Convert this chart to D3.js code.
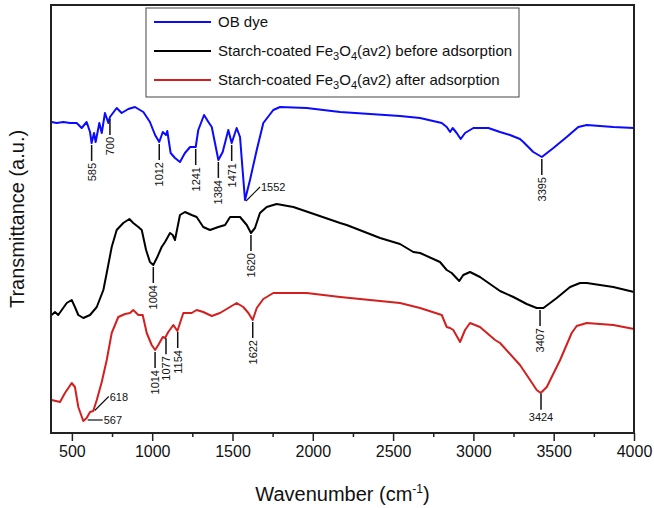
<!DOCTYPE html>
<html>
<head>
<meta charset="utf-8">
<script src="https://cdn.jsdelivr.net/npm/d3@7"></script>
<style>
body { margin: 0; background: #fff; font-family: "Liberation Sans", Arial, sans-serif; }
</style>
</head>
<body>
<script>

// spectra: [wavenumber (cm-1), transmittance (a.u.)]
var obDye = [[374,311],[405,310],[447,311],[488,310],[530,310],[561,305],[592,311],[613,301],[623,290],[638,300],[648,291],[671,310],[686,300],[706,320],[727,310],[737,316],[779,325],[810,320],[851,324],[893,326],[924,323],[945,321],[986,311],[1018,298],[1044,291],[1066,301],[1086,298],[1094,302],[1115,280],[1142,275],[1173,271],[1204,280],[1236,286],[1271,286],[1287,303],[1323,318],[1350,311],[1371,306],[1391,290],[1412,273],[1439,281],[1474,303],[1495,290],[1526,305],[1547,296],[1562,265],[1578,233],[1609,253],[1651,283],[1692,310],[1754,323],[1796,326],[1962,325],[2170,321],[2543,317],[2668,315],[2803,310],[2834,306],[2855,301],[2871,305],[2896,300],[2921,294],[2948,300],[3000,305],[3093,305],[3166,301],[3228,298],[3290,294],[3311,291],[3373,281],[3426,276],[3498,285],[3581,296],[3653,306],[3706,308],[3871,306],[4000,305]];

var beforeAds = [[374,118],[395,121],[415,118],[437,123],[468,130],[499,133],[519,126],[540,118],[571,115],[613,118],[655,126],[696,143],[717,160],[748,186],[779,203],[820,210],[858,214],[882,210],[914,206],[935,203],[962,183],[986,171],[1007,168],[1032,176],[1059,186],[1080,191],[1111,200],[1128,198],[1142,193],[1173,218],[1204,221],[1246,218],[1277,216],[1318,206],[1360,203],[1412,206],[1454,208],[1485,216],[1547,216],[1589,208],[1615,200],[1640,205],[1671,220],[1713,226],[1775,229],[1879,226],[2025,218],[2170,210],[2211,208],[2419,195],[2543,189],[2626,181],[2668,180],[2792,171],[2834,163],[2865,160],[2912,152],[2937,158],[2979,161],[3041,156],[3166,142],[3249,136],[3332,129],[3394,125],[3436,125],[3519,135],[3602,146],[3664,150],[3706,150],[3871,146],[4000,141]];

var afterAds = [[374,33],[426,31],[457,40],[499,50],[519,46],[540,26],[571,12],[592,15],[613,21],[633,22],[655,33],[686,51],[717,73],[748,100],[789,116],[831,119],[862,120],[882,123],[914,118],[941,118],[966,100],[997,88],[1018,83],[1038,88],[1066,96],[1080,95],[1100,101],[1132,108],[1157,102],[1194,120],[1246,120],[1277,123],[1318,121],[1371,117],[1422,120],[1474,125],[1526,130],[1567,126],[1599,120],[1626,113],[1651,125],[1692,134],[1754,140],[1962,140],[2170,136],[2543,130],[2668,125],[2803,118],[2834,106],[2855,105],[2875,103],[2917,91],[2948,103],[2979,110],[3041,106],[3135,93],[3166,90],[3290,68],[3353,53],[3394,43],[3419,40],[3457,46],[3540,73],[3612,100],[3643,107],[3706,110],[3871,108],[4000,104]];

var seriesNames = ["OB dye", "Starch-coated Fe3O4(av2) before adsorption", "Starch-coated Fe3O4(av2) after adsorption"];
var seriesColors = ["#0a0aff", "#000000", "#d41f1f"];

var xTicks = [500, 1000, 1500, 2000, 2500, 3000, 3500, 4000];
var xMinor = [750, 1250, 1750, 2250, 2750, 3250, 3750];

// band labels: label text, and where the band sits on the drawn curve
var obPeaks = [{label:"585", at:623}, {label:"700", at:737}, {label:"1012", at:1044}, {label:"1241", at:1271}, {label:"1384", at:1412}, {label:"1471", at:1495}, {label:"1552", at:1578}, {label:"3395", at:3426}];
var beforePeaks = [{label:"1004", at:1007}, {label:"1620", at:1615}, {label:"3407", at:3415}];
var afterPeaks = [{label:"567", at:592}, {label:"618", at:636}, {label:"1014", at:1018}, {label:"1077", at:1086}, {label:"1154", at:1159}, {label:"1622", at:1626}, {label:"3424", at:3421}];

var width = 654, height = 508;
var margin = {left: 51, right: 20, top: 5, bottom: 75};
var font = "'Liberation Sans', Arial, sans-serif";

var svg = d3.select("body").append("svg")
  .attr("width", width)
  .attr("height", height)
  .attr("font-family", font);

var x = d3.scaleLinear().domain([370, 4000]).range([margin.left, width - margin.right]);
var y = d3.scaleLinear().domain([0, 428]).range([height - margin.bottom, margin.top]);

var line = d3.line().x(function(d){ return x(d[0]); }).y(function(d){ return y(d[1]); });

var allSeries = [obDye, beforeAds, afterAds];
var allPeaks = [obPeaks, beforePeaks, afterPeaks];

allSeries.forEach(function(s, i){
  svg.append("path")
    .datum(s)
    .attr("fill", "none")
    .attr("stroke", seriesColors[i])
    .attr("stroke-width", 2)
    .attr("stroke-linejoin", "round")
    .attr("d", line);
});

// value of a series at a wavenumber (linear between points)
function valueAt(s, w) {
  var i = d3.bisector(function(d){ return d[0]; }).left(s, w);
  if (i <= 0) return s[0][1];
  if (i >= s.length) return s[s.length-1][1];
  var a = s[i-1], b = s[i];
  return a[1] + (b[1]-a[1]) * (w - a[0]) / (b[0] - a[0]);
}

var special = {"1552": "diag", "618": "diag", "567": "right", "3424": "below"};
var ann = svg.append("g").attr("font-size", 11).attr("fill", "#111");

allPeaks.forEach(function(peaks, i){
  peaks.forEach(function(p){
    var px = x(p.at), py = y(valueAt(allSeries[i], p.at));
    var kind = special[p.label] || "down";
    if (kind == "down") {
      ann.append("line").attr("x1", px).attr("x2", px).attr("y1", py + 2).attr("y2", py + 18)
        .attr("stroke", "#111").attr("stroke-width", 1.5);
      ann.append("text").attr("transform", "translate(" + (px + 4) + "," + (py + 20) + ") rotate(-90)")
        .attr("text-anchor", "end").text(p.label);
    } else if (kind == "below") {
      ann.append("line").attr("x1", px).attr("x2", px).attr("y1", py + 1).attr("y2", py + 17)
        .attr("stroke", "#111").attr("stroke-width", 1.5);
      ann.append("text").attr("x", px).attr("y", py + 28).attr("text-anchor", "middle").text(p.label);
    } else if (kind == "diag") {
      ann.append("line").attr("x1", px + 1).attr("x2", px + 15).attr("y1", py + 1).attr("y2", py - 13)
        .attr("stroke", "#111").attr("stroke-width", 1.2);
      ann.append("text").attr("x", px + 16).attr("y", py - 9).text(p.label);
    } else {
      ann.append("line").attr("x1", px + 1).attr("x2", px + 16).attr("y1", py + 2).attr("y2", py + 2)
        .attr("stroke", "#111").attr("stroke-width", 1.2);
      ann.append("text").attr("x", px + 17).attr("y", py + 6).text(p.label);
    }
  });
});

// frame
svg.append("rect")
  .attr("x", margin.left).attr("y", margin.top)
  .attr("width", width - margin.left - margin.right)
  .attr("height", height - margin.top - margin.bottom)
  .attr("fill", "none").attr("stroke", "#222").attr("stroke-width", 2);

var xAxis = svg.append("g")
  .attr("transform", "translate(0," + (height - margin.bottom) + ")")
  .call(d3.axisBottom(x).tickValues(xTicks).tickSize(8).tickPadding(5).tickFormat(d3.format("d")));
xAxis.select(".domain").remove();
xAxis.selectAll("line").attr("stroke", "#222").attr("stroke-width", 1.5);
xAxis.selectAll("text").attr("font-size", 16).attr("fill", "#111").attr("font-family", font);

var xMin = svg.append("g")
  .attr("transform", "translate(0," + (height - margin.bottom) + ")")
  .call(d3.axisBottom(x).tickValues(xMinor).tickSize(4).tickFormat(""));
xMin.select(".domain").remove();
xMin.selectAll("line").attr("stroke", "#222").attr("stroke-width", 1.5);

// axis titles
var xt = svg.append("text").attr("x", (margin.left + width - margin.right) / 2).attr("y", 501)
  .attr("text-anchor", "middle").attr("font-size", 20).attr("fill", "#111");
xt.append("tspan").text("Wavenumber (cm");
xt.append("tspan").attr("dy", -8).attr("font-size", 12).text("-1");
xt.append("tspan").attr("dy", 8).text(")");

svg.append("text")
  .attr("transform", "translate(24," + ((margin.top + height - margin.bottom) / 2) + ") rotate(-90)")
  .attr("text-anchor", "middle").attr("font-size", 20).attr("fill", "#111")
  .text("Transmittance (a.u.)");

// legend
var lg = svg.append("g");
lg.append("rect").attr("x", 146).attr("y", 8).attr("width", 373).attr("height", 89)
  .attr("fill", "#fff").attr("stroke", "#444").attr("stroke-width", 1);

seriesNames.forEach(function(name, i){
  var ly = 22 + i * 29;
  lg.append("line").attr("x1", 154).attr("x2", 211).attr("y1", ly).attr("y2", ly)
    .attr("stroke", seriesColors[i]).attr("stroke-width", 2);
  var t = lg.append("text").attr("x", 218).attr("y", ly + 5).attr("font-size", 15).attr("fill", "#111");
  // subscripts in Fe3O4
  var parts = name.split("Fe3O4");
  t.append("tspan").text(parts[0]);
  if (parts.length > 1) {
    t.append("tspan").text("Fe");
    t.append("tspan").attr("dy", 4).attr("font-size", 11).text("3");
    t.append("tspan").attr("dy", -4).text("O");
    t.append("tspan").attr("dy", 4).attr("font-size", 11).text("4");
    t.append("tspan").attr("dy", -4).text(parts[1]);
  }
});

</script>
</body>
</html>
